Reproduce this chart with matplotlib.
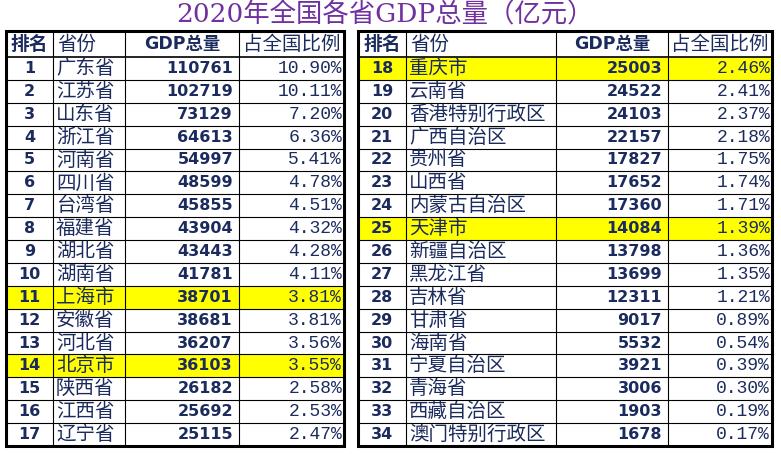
import matplotlib.pyplot as plt
from matplotlib.patches import Rectangle

plt.rcParams['font.family'] = ['DejaVu Sans', 'Noto Sans CJK SC']

title = "2020年全国各省GDP总量（亿元）"
headers = ["排名", "省份", "GDP总量", "占全国比例"]

ranks = list(range(1, 35))
names = ["广东省", "江苏省", "山东省", "浙江省", "河南省", "四川省", "台湾省",
         "福建省", "湖北省", "湖南省", "上海市", "安徽省", "河北省", "北京市",
         "陕西省", "江西省", "辽宁省",
         "重庆市", "云南省", "香港特别行政区", "广西自治区", "贵州省", "山西省",
         "内蒙古自治区", "天津市", "新疆自治区", "黑龙江省", "吉林省", "甘肃省",
         "海南省", "宁夏自治区", "青海省", "西藏自治区", "澳门特别行政区"]
gdp = [110761, 102719, 73129, 64613, 54997, 48599, 45855, 43904, 43443, 41781,
       38701, 38681, 36207, 36103, 26182, 25692, 25115,
       25003, 24522, 24103, 22157, 17827, 17652, 17360, 14084, 13798, 13699,
       12311, 9017, 5532, 3921, 3006, 1903, 1678]
share = ["10.90%", "10.11%", "7.20%", "6.36%", "5.41%", "4.78%", "4.51%",
         "4.32%", "4.28%", "4.11%", "3.81%", "3.81%", "3.56%", "3.55%",
         "2.58%", "2.53%", "2.47%",
         "2.46%", "2.41%", "2.37%", "2.18%", "1.75%", "1.74%", "1.71%",
         "1.39%", "1.36%", "1.35%", "1.21%", "0.89%", "0.54%", "0.39%",
         "0.30%", "0.19%", "0.17%"]
highlight = [11, 14, 18, 25]

NAVY = "#1c2b5e"
YELLOW = "#ffff00"

# табличная геометрия (пиксели)
head_top, head_bot = 31, 57
row_h = (446 - head_bot) / 17
tables = [
    [6, 53, 125, 239, 344],
    [358, 406, 556, 668, 772],
]

fig = plt.figure(figsize=(7.81, 4.54), dpi=100)
ax = fig.add_axes([0, 0, 1, 1])
ax.set_xlim(0, 781)
ax.set_ylim(454, 0)
ax.axis("off")

ax.text(385, 15, title, ha="center", va="center", fontsize=19,
        color="#7030a0", family=["DejaVu Serif", "Noto Sans CJK SC"])

thin = 0.8
thick = 2.2
for t, cols in enumerate(tables):
    start = t * 17
    bottom = head_bot + row_h * 17
    # подсветка
    for i in range(17):
        k = start + i
        if ranks[k] in highlight:
            y0 = head_bot + i * row_h
            ax.add_patch(Rectangle((cols[0], y0), cols[-1] - cols[0], row_h,
                                   facecolor=YELLOW, edgecolor="none", zorder=0))
    # линии
    for i in range(1, 17):
        y = head_bot + i * row_h
        ax.plot([cols[0], cols[-1]], [y, y], color="black", lw=thin, zorder=2)
    ax.plot([cols[0], cols[-1]], [head_bot, head_bot], color="black", lw=1.2, zorder=2)
    for x in cols[1:-1]:
        ax.plot([x, x], [head_top, bottom], color="black", lw=thin, zorder=2)
    ax.add_patch(Rectangle((cols[0], head_top), cols[-1] - cols[0], bottom - head_top,
                           facecolor="none", edgecolor="black", lw=thick, zorder=3))

    # заголовок
    hy = (head_top + head_bot) / 2
    ax.text((cols[0] + cols[1]) / 2, hy, headers[0], ha="center", va="center",
            fontsize=13.5, fontweight="bold", color=NAVY)
    ax.text(cols[1] + 4, hy, headers[1], ha="left", va="center",
            fontsize=14, color=NAVY)
    ax.text((cols[2] + cols[3]) / 2, hy, headers[2], ha="center", va="center",
            fontsize=12.5, fontweight="bold", color=NAVY)
    ax.text((cols[3] + cols[4]) / 2, hy, headers[3], ha="center", va="center",
            fontsize=14, color=NAVY)

    for i in range(17):
        k = start + i
        yc = head_bot + (i + 0.5) * row_h
        ax.text((cols[0] + cols[1]) / 2, yc, str(ranks[k]), ha="center", va="center",
                fontsize=11.5, fontweight="bold", color=NAVY)
        ax.text(cols[1] + 3, yc, names[k], ha="left", va="center",
                fontsize=14, color=NAVY, family="Noto Sans CJK SC")
        ax.text(cols[3] - 6, yc, str(gdp[k]), ha="right", va="center",
                fontsize=11.5, fontweight="bold", color=NAVY)
        ax.text(cols[4] - 2, yc, share[k], ha="right", va="center",
                fontsize=13, color=NAVY, family="Liberation Mono")

fig.savefig("out.png", dpi=100)
